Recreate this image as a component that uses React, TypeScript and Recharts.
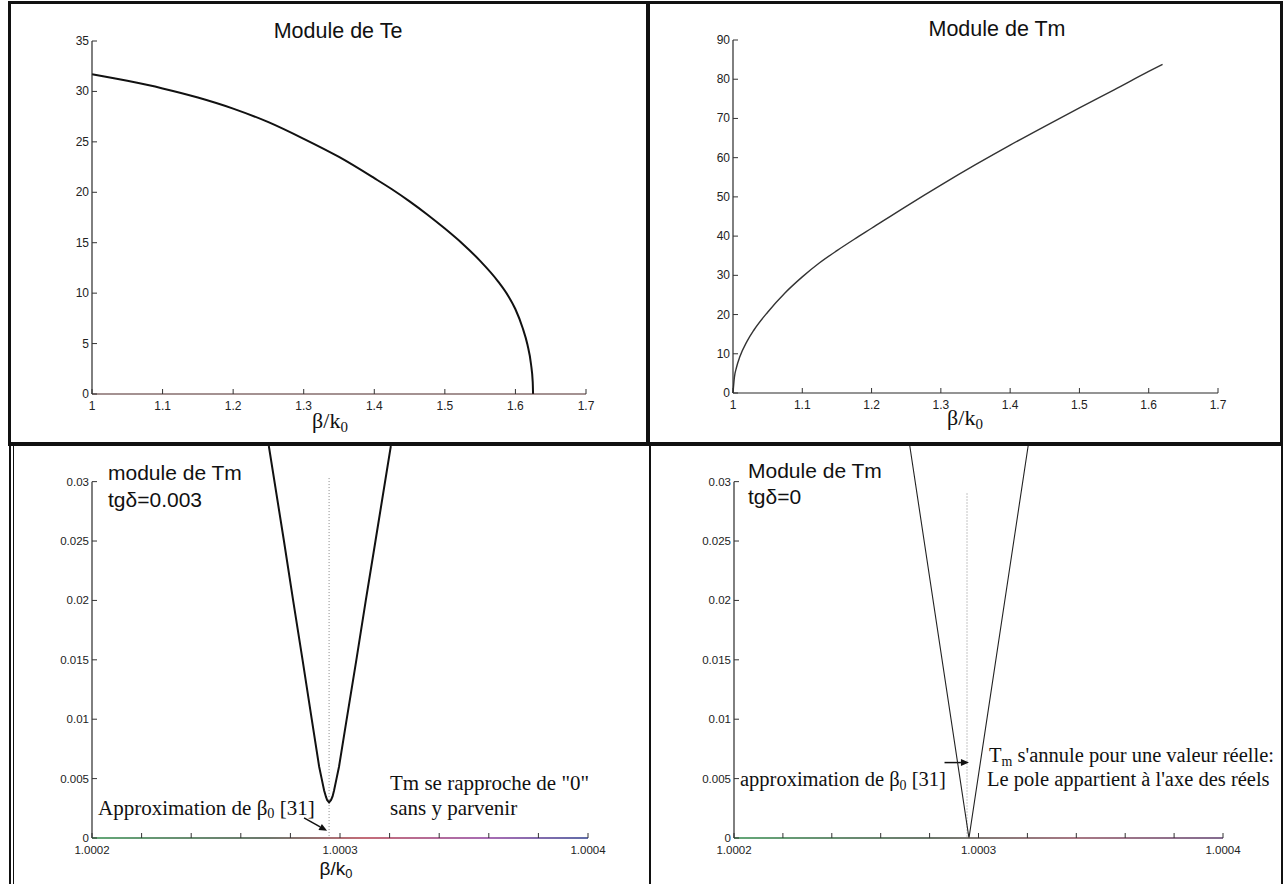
import React from 'react';
import { LineChart, Line, XAxis, YAxis, ReferenceLine } from 'recharts';

// Module de Te (haut gauche)
const teBeta = [1.0, 1.05, 1.1, 1.15, 1.2, 1.25, 1.3, 1.35, 1.4, 1.425, 1.45, 1.475, 1.5, 1.525, 1.55, 1.575, 1.59, 1.6, 1.61, 1.617, 1.622, 1.6245, 1.625];
const teModule = [31.7, 31.05, 30.3, 29.4, 28.3, 26.95, 25.3, 23.5, 21.4, 20.3, 19.1, 17.8, 16.4, 14.9, 13.2, 11.2, 9.7, 8.4, 6.6, 4.9, 3.0, 1.2, 0];

// Module de Tm (haut droite)
const tmBeta = [1.0, 1.002, 1.005, 1.01, 1.02, 1.03, 1.05, 1.075, 1.1, 1.125, 1.15, 1.175, 1.2, 1.25, 1.3, 1.35, 1.4, 1.45, 1.5, 1.55, 1.6, 1.62];
const tmModule = [0, 4, 6.5, 9.3, 13.1, 16.0, 20.6, 25.5, 29.6, 33.2, 36.3, 39.2, 42.0, 47.6, 53.0, 58.2, 63.2, 68.0, 72.7, 77.3, 82.0, 83.8];

// Module de Tm pres du pole, tgδ=0.003 (bas gauche)
const lossyBeta = [1.0002713, 1.0002774, 1.0002811, 1.0002849, 1.0002886, 1.0002916, 1.0002926, 1.0002936, 1.0002943, 1.0002948, 1.0002956,
  1.0002964, 1.000297, 1.0002976, 1.0002986, 1.0002996, 1.0003027, 1.0003066, 1.0003104, 1.0003143, 1.0003205];
const lossyModule = [0.033, 0.025, 0.02, 0.015, 0.01, 0.006, 0.005, 0.004, 0.0035, 0.0032, 0.003,
  0.0032, 0.0035, 0.004, 0.005, 0.006, 0.01, 0.015, 0.02, 0.025, 0.033];

// Module de Tm pres du pole, tgδ=0 (bas droite)
const losslessBeta = [1.0002719, 1.0002961, 1.0003203];
const losslessModule = [0.033, 0, 0.033];

const beta0 = 1.0002956; // approximation de β0 [31]

const wideTicks = [1, 1.1, 1.2, 1.3, 1.4, 1.5, 1.6, 1.7];
const wideLabels = ['1', '1.1', '1.2', '1.3', '1.4', '1.5', '1.6', '1.7'];
const teTicks = [0, 5, 10, 15, 20, 25, 30, 35];
const tmTicks = [0, 10, 20, 30, 40, 50, 60, 70, 80, 90];
const nearTicks = [1.0002, 1.00022, 1.00024, 1.00026, 1.00028, 1.0003, 1.00032, 1.00034, 1.00036, 1.00038, 1.0004];
const nearLabels = ['1.0002', '', '', '', '', '1.0003', '', '', '', '', '1.0004'];
const smallTicks = [0, 0.005, 0.01, 0.015, 0.02, 0.025, 0.03];
const smallLabels = ['0', '0.005', '0.01', '0.015', '0.02', '0.025', '0.03'];

const toRows = (xs: number[], ys: number[]) => xs.map((x, i) => ({ x, y: ys[i] }));

const YW = 60;
const XH = 30;
const SANS = '"Liberation Sans", Arial, Helvetica, sans-serif';
const SERIF = '"Liberation Serif", "Times New Roman", serif';

type Box = { l: number; t: number; r: number; b: number };
const margins = (panel: Box, plot: Box) => ({
  top: plot.t - panel.t,
  right: panel.r - plot.r,
  bottom: panel.b - plot.b - XH,
  left: plot.l - panel.l - YW,
});

const pick = (ticks: number[], labels: string[], v: number) => {
  const i = ticks.findIndex((t) => Math.abs(t - v) < 1e-9);
  return i < 0 ? '' : labels[i];
};

const XTick = ({ x, y, payload, ticks, labels, size }: any) => {
  const label = pick(ticks, labels, payload.value);
  return (
    <g>
      <line x1={x} y1={y} x2={x} y2={y - 5} stroke="#333" strokeWidth={1} />
      {label && (
        <text x={x} y={y + 16} textAnchor="middle" fontSize={size} fontFamily={SANS} fill="#222">{label}</text>
      )}
    </g>
  );
};

const YTick = ({ x, y, payload, ticks, labels, size }: any) => {
  const label = pick(ticks, labels, payload.value);
  return (
    <g>
      <line x1={x} y1={y} x2={x + 5} y2={y} stroke="#333" strokeWidth={1} />
      <text x={x - 3} y={y + 4} textAnchor="end" fontSize={size} fontFamily={SANS} fill="#222">{label}</text>
    </g>
  );
};

const Arrow = (props: any) => {
  const { x1, y1, x2, y2 } = props;
  const a = Math.atan2(y2 - y1, x2 - x1);
  const L = 8;
  const w = 3.5;
  const bx = x2 - L * Math.cos(a);
  const by = y2 - L * Math.sin(a);
  const px = -Math.sin(a) * w;
  const py = Math.cos(a) * w;
  return (
    <g>
      <line x1={x1} y1={y1} x2={bx} y2={by} stroke="#111" strokeWidth={1.5} />
      <polygon points={`${x2},${y2} ${bx + px},${by + py} ${bx - px},${by - py}`} fill="#111" />
    </g>
  );
};

const Txt = ({ x, y, children, style, center }: any) => (
  <div
    style={{
      position: 'absolute',
      left: x,
      top: y,
      transform: center ? 'translate(-50%, -50%)' : 'translateY(-50%)',
      whiteSpace: 'nowrap',
      lineHeight: 1,
      color: '#111',
      ...style,
    }}
  >
    {children}
  </div>
);

const Sub = ({ children }: any) => (
  <sub style={{ fontSize: '0.68em', verticalAlign: '-0.28em', lineHeight: 0 }}>{children}</sub>
);

const Rule = ({ l, t, w, h }: any) => (
  <div style={{ position: 'absolute', left: l, top: t, width: w, height: h, background: '#111' }} />
);

const TL_PANEL = { l: 11, t: 5, r: 645, b: 442 };
const TL_PLOT = { l: 92, t: 41, r: 586, b: 394 };
const TR_PANEL = { l: 650, t: 5, r: 1280, b: 442 };
const TR_PLOT = { l: 733, t: 40, r: 1218, b: 393 };
const BL_PANEL = { l: 14, t: 446, r: 647, b: 884 };
const BL_PLOT = { l: 92, t: 446, r: 588, b: 838 };
const BR_PANEL = { l: 652, t: 446, r: 1281, b: 884 };
const BR_PLOT = { l: 734, t: 446, r: 1223, b: 838 };

const at = (p: Box): React.CSSProperties => ({ position: 'absolute', left: p.l, top: p.t });

const sans = (size: number) => ({ fontFamily: SANS, fontSize: size });
const serif = (size: number) => ({ fontFamily: SERIF, fontSize: size });

export default function App() {
  const teData = toRows(teBeta, teModule);
  const tmData = toRows(tmBeta, tmModule);
  const lossyData = toRows(lossyBeta, lossyModule);
  const losslessData = toRows(losslessBeta, losslessModule);

  const blw = BL_PANEL.r - BL_PANEL.l;
  const brw = BR_PANEL.r - BR_PANEL.l;

  return (
    <div style={{ position: 'absolute', left: 0, top: 0, width: 1285, height: 884, background: '#fff', overflow: 'hidden', fontFamily: SANS }}>
      {/* haut gauche : Module de Te */}
      <div style={at(TL_PANEL)}>
        <LineChart width={TL_PANEL.r - TL_PANEL.l} height={TL_PANEL.b - TL_PANEL.t} data={teData} margin={margins(TL_PANEL, TL_PLOT)}>
          <XAxis type="number" dataKey="x" domain={[1, 1.7]} ticks={wideTicks} interval={0} height={XH}
            tickSize={0} tickMargin={0} tickLine={false} axisLine={{ stroke: '#4a2626', strokeWidth: 1.2 }}
            tick={(p: any) => <XTick {...p} ticks={wideTicks} labels={wideLabels} size={12} />} />
          <YAxis type="number" dataKey="y" domain={[0, 35]} ticks={teTicks} interval={0} width={YW}
            tickSize={0} tickMargin={0} tickLine={false} axisLine={{ stroke: '#2a2a2a', strokeWidth: 1.2 }}
            tick={(p: any) => <YTick {...p} ticks={teTicks} labels={teTicks.map(String)} size={12} />} />
          <Line type="monotone" dataKey="y" stroke="#111" strokeWidth={2} dot={false} isAnimationActive={false} />
        </LineChart>
      </div>

      {/* haut droite : Module de Tm */}
      <div style={at(TR_PANEL)}>
        <LineChart width={TR_PANEL.r - TR_PANEL.l} height={TR_PANEL.b - TR_PANEL.t} data={tmData} margin={margins(TR_PANEL, TR_PLOT)}>
          <XAxis type="number" dataKey="x" domain={[1, 1.7]} ticks={wideTicks} interval={0} height={XH}
            tickSize={0} tickMargin={0} tickLine={false} axisLine={{ stroke: '#2a2a2a', strokeWidth: 1.2 }}
            tick={(p: any) => <XTick {...p} ticks={wideTicks} labels={wideLabels} size={12} />} />
          <YAxis type="number" dataKey="y" domain={[0, 90]} ticks={tmTicks} interval={0} width={YW}
            tickSize={0} tickMargin={0} tickLine={false} axisLine={{ stroke: '#2a2a2a', strokeWidth: 1.2 }}
            tick={(p: any) => <YTick {...p} ticks={tmTicks} labels={tmTicks.map(String)} size={12} />} />
          <Line type="monotone" dataKey="y" stroke="#333" strokeWidth={1.4} dot={false} isAnimationActive={false} />
        </LineChart>
      </div>

      {/* bas gauche : tgδ=0.003 */}
      <div style={at(BL_PANEL)}>
        <LineChart width={blw} height={BL_PANEL.b - BL_PANEL.t} data={lossyData} margin={margins(BL_PANEL, BL_PLOT)}>
          <defs>
            <linearGradient id="tintL" gradientUnits="userSpaceOnUse" x1={BL_PLOT.l - BL_PANEL.l} y1={0} x2={BL_PLOT.r - BL_PANEL.l} y2={0}>
              <stop offset="0" stopColor="#2f8a4a" />
              <stop offset="0.35" stopColor="#3a4a3a" />
              <stop offset="0.55" stopColor="#b03a4a" />
              <stop offset="0.8" stopColor="#8a3a9a" />
              <stop offset="1" stopColor="#2a3a8a" />
            </linearGradient>
          </defs>
          <XAxis type="number" dataKey="x" domain={[1.0002, 1.0004]} ticks={nearTicks} interval={0} height={XH}
            tickSize={0} tickMargin={0} tickLine={false} axisLine={{ stroke: 'url(#tintL)', strokeWidth: 1.5 }}
            tick={(p: any) => <XTick {...p} ticks={nearTicks} labels={nearLabels} size={11.5} />} />
          <YAxis type="number" dataKey="y" domain={[0, 0.033]} ticks={smallTicks} interval={0} width={YW} allowDataOverflow
            tickSize={0} tickMargin={0} tickLine={false} axisLine={false}
            tick={(p: any) => <YTick {...p} ticks={smallTicks} labels={smallLabels} size={11.5} />} />
          <ReferenceLine segment={[{ x: 1.0002, y: 0 }, { x: 1.0002, y: 0.03 }]} stroke="#2a2a2a" strokeWidth={1.2} />
          <ReferenceLine segment={[{ x: beta0, y: 0.0303 }, { x: beta0, y: 0 }]} stroke="#888" strokeDasharray="1 2" />
          <ReferenceLine segment={[{ x: 1.0002855, y: 0.0017 }, { x: 1.0002948, y: 0.0006 }]} shape={Arrow} />
          <Line type="linear" dataKey="y" stroke="#111" strokeWidth={2} dot={false} isAnimationActive={false} />
        </LineChart>
      </div>

      {/* bas droite : tgδ=0 */}
      <div style={at(BR_PANEL)}>
        <LineChart width={brw} height={BR_PANEL.b - BR_PANEL.t} data={losslessData} margin={margins(BR_PANEL, BR_PLOT)}>
          <defs>
            <linearGradient id="tintR" gradientUnits="userSpaceOnUse" x1={BR_PLOT.l - BR_PANEL.l} y1={0} x2={BR_PLOT.r - BR_PANEL.l} y2={0}>
              <stop offset="0" stopColor="#2f8a4a" />
              <stop offset="0.4" stopColor="#3a4a3a" />
              <stop offset="0.7" stopColor="#8a4a5a" />
              <stop offset="1" stopColor="#5a3a6a" />
            </linearGradient>
          </defs>
          <XAxis type="number" dataKey="x" domain={[1.0002, 1.0004]} ticks={nearTicks} interval={0} height={XH}
            tickSize={0} tickMargin={0} tickLine={false} axisLine={{ stroke: 'url(#tintR)', strokeWidth: 1.3 }}
            tick={(p: any) => <XTick {...p} ticks={nearTicks} labels={nearLabels} size={11.5} />} />
          <YAxis type="number" dataKey="y" domain={[0, 0.033]} ticks={smallTicks} interval={0} width={YW} allowDataOverflow
            tickSize={0} tickMargin={0} tickLine={false} axisLine={false}
            tick={(p: any) => <YTick {...p} ticks={smallTicks} labels={smallLabels} size={11.5} />} />
          <ReferenceLine segment={[{ x: 1.0002, y: 0 }, { x: 1.0002, y: 0.03 }]} stroke="#2a2a2a" strokeWidth={1.2} />
          <ReferenceLine segment={[{ x: 1.0002953, y: 0.029 }, { x: 1.0002953, y: 0 }]} stroke="#888" strokeDasharray="1 2" />
          <ReferenceLine segment={[{ x: 1.0002861, y: 0.00635 }, { x: 1.0002961, y: 0.00635 }]} shape={Arrow} />
          <Line type="linear" dataKey="y" stroke="#222" strokeWidth={1.1} dot={false} isAnimationActive={false} />
        </LineChart>
      </div>

      {/* cadres */}
      <Rule l={8} t={1} w={1275} h={3} />
      <Rule l={8} t={1} w={3} h={445} />
      <Rule l={646} t={1} w={4} h={445} />
      <Rule l={1280} t={1} w={3} h={445} />
      <Rule l={8} t={442} w={1275} h={4} />
      <Rule l={9} t={446} w={2} h={438} />
      <Rule l={13} t={446} w={1} h={438} />
      <Rule l={649} t={446} w={2} h={438} />
      <Rule l={1281} t={446} w={2} h={438} />

      {/* textes */}
      <Txt x={338} y={32} center style={sans(21.5)}>Module de Te</Txt>
      <Txt x={330} y={421} center style={serif(22)}>β/k<Sub>0</Sub></Txt>
      <Txt x={997} y={30} center style={sans(21.5)}>Module de Tm</Txt>
      <Txt x={965} y={418} center style={serif(22)}>β/k<Sub>0</Sub></Txt>

      <Txt x={108} y={472} style={sans(21)}>module de Tm</Txt>
      <Txt x={108} y={499} style={sans(21)}>tgδ=0.003</Txt>
      <Txt x={98} y={808} style={serif(21)}>Approximation de β<Sub>0</Sub> [31]</Txt>
      <Txt x={390} y={783} style={serif(21)}>Tm se rapproche de "0"</Txt>
      <Txt x={390} y={808} style={serif(21)}>sans y parvenir</Txt>
      <Txt x={336} y={868} center style={sans(19)}>β/k<Sub>0</Sub></Txt>

      <Txt x={748} y={470} style={sans(21)}>Module de Tm</Txt>
      <Txt x={748} y={496} style={sans(21)}>tgδ=0</Txt>
      <Txt x={740} y={779} style={serif(20.5)}>approximation de β<Sub>0</Sub> [31]</Txt>
      <Txt x={989} y={755} style={serif(20.5)}>T<Sub>m</Sub> s'annule pour une valeur réelle:</Txt>
      <Txt x={987} y={779} style={serif(20.5)}>Le pole appartient à l'axe des réels</Txt>
    </div>
  );
}
